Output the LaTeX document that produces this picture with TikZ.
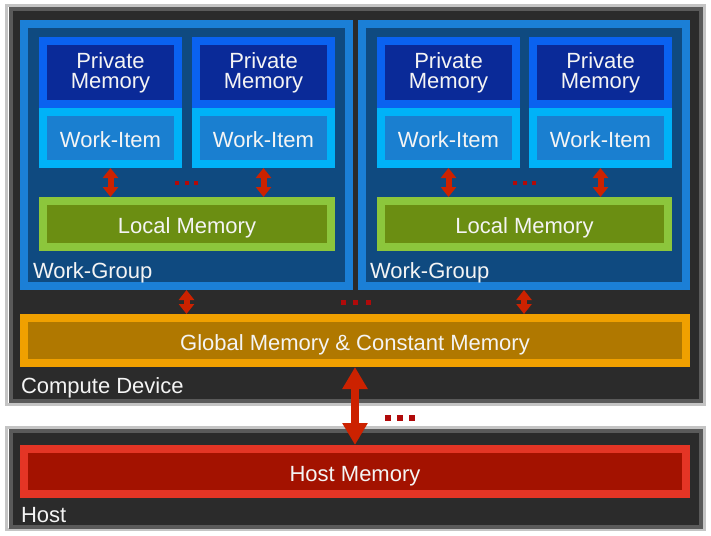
\documentclass[tikz,border=0pt]{standalone}
\usepackage{fontspec}
\setmainfont{Liberation Sans}
\usetikzlibrary{arrows.meta}
\definecolor{devfill}{HTML}{2B2B2B}
\definecolor{devframe}{HTML}{5A5A5A}
\definecolor{devedge}{HTML}{C4C4C4}
\definecolor{wgout}{HTML}{1B7FD6}
\definecolor{wgin}{HTML}{0F4A80}
\definecolor{pmout}{HTML}{0A62F0}
\definecolor{pmin}{HTML}{0A2A98}
\definecolor{wiout}{HTML}{00B2F8}
\definecolor{wiin}{HTML}{1A7FD0}
\definecolor{lmout}{HTML}{8CC63C}
\definecolor{lmin}{HTML}{6B8E12}
\definecolor{glout}{HTML}{F0A000}
\definecolor{glin}{HTML}{B07800}
\definecolor{hmout}{HTML}{E43525}
\definecolor{hmin}{HTML}{A31200}
\definecolor{arrred}{HTML}{CC2200}
\definecolor{dotred}{HTML}{B00A0A}
\definecolor{txt}{HTML}{F4F4F4}
\begin{document}
\begin{tikzpicture}[x=1pt,y=-1pt,
  every node/.style={inner sep=0pt,outer sep=0pt},
  lbl/.style={text=txt,font=\fontsize{22}{19}\selectfont},
  mbox/.style n args={4}{draw=#1,fill=#2,line width=8pt,outer sep=4pt,
     minimum width=#3,minimum height=#4,text=txt,
     font=\fontsize{22}{20}\selectfont,text height=19pt,text depth=0pt},
  twoline/.style={align=center,text height=,text depth=},
  frame/.style={draw=devframe,fill=devfill,line width=4pt,outer sep=2pt},
  edge/.style={draw=devedge,line width=3pt},
  smallarr/.style={draw=arrred,line width=6pt,
     {Triangle[width=15pt,length=10pt]}-{Triangle[width=15pt,length=10pt]}},
  bigarr/.style={draw=arrred,line width=8pt,
     {Triangle[width=24pt,length=22pt]}-{Triangle[width=24pt,length=22pt]}},
  dotsq/.style={fill=dotred,minimum width=#1,minimum height=#1}
]
\useasboundingbox (0,0) rectangle (711,535);
\fill[white] (0,0) rectangle (711,535);

% Compute device
\draw[edge] (6.5,5.5) rectangle (704.5,404.5);
\node[frame,minimum width=690pt,minimum height=392pt] (dev) at (355.5,205) {};
% Host
\draw[edge] (6.5,427.5) rectangle (704.5,529.5);
\node[frame,minimum width=690pt,minimum height=96pt] (host) at (355.5,478.5) {};

% Work-groups
\node[mbox={wgout}{wgin}{325pt}{262pt}] (wg1) at (186.5,155) {};
\node[mbox={wgout}{wgin}{324pt}{262pt}] (wg2) at (524,155) {};

% Work-group 1 contents
\node[mbox={pmout}{pmin}{135pt}{63pt},twoline] (pm1) at (110.5,72.5) {Private\\Memory};
\node[mbox={pmout}{pmin}{135pt}{63pt},twoline] (pm2) at (263.5,72.5) {Private\\Memory};
\node[mbox={wiout}{wiin}{135pt}{52pt}] (wi1) at (110.5,138) {Work-Item};
\node[mbox={wiout}{wiin}{135pt}{52pt}] (wi2) at (263.5,138) {Work-Item};
\node[mbox={lmout}{lmin}{288pt}{46pt}] (lm1) at (187,224) {Local Memory};

% Work-group 2 contents
\node[mbox={pmout}{pmin}{135pt}{63pt},twoline] (pm3) at (448.5,72.5) {Private\\Memory};
\node[mbox={pmout}{pmin}{135pt}{63pt},twoline] (pm4) at (600.5,72.5) {Private\\Memory};
\node[mbox={wiout}{wiin}{135pt}{52pt}] (wi3) at (448.5,138) {Work-Item};
\node[mbox={wiout}{wiin}{135pt}{52pt}] (wi4) at (600.5,138) {Work-Item};
\node[mbox={lmout}{lmin}{287pt}{46pt}] (lm2) at (524.5,224) {Local Memory};

% Global and host memory
\node[mbox={glout}{glin}{662pt}{45pt}] (glob) at (355,340.5) {Global Memory \& Constant Memory};
\node[mbox={hmout}{hmin}{662pt}{45pt}] (hmem) at (355,471.5) {Host Memory};

% Labels
\node[lbl,anchor=base west] (wgl1) at (33,278) {Work-Group};
\node[lbl,anchor=base west] (wgl2) at (370,278) {Work-Group};
\node[lbl,anchor=base west] (devl) at (21,393) {Compute Device};
\node[lbl,anchor=base west] (hostl) at (21,522) {Host};

% Arrows
\draw[smallarr] (wi1.south) -- (wi1.south |- lm1.north);
\draw[smallarr] (wi2.south) -- (wi2.south |- lm1.north);
\draw[smallarr] (wi3.south) -- (wi3.south |- lm2.north);
\draw[smallarr] (wi4.south) -- (wi4.south |- lm2.north);
\draw[smallarr] (wg1.south) -- (wg1.south |- glob.north);
\draw[smallarr] (wg2.south) -- (wg2.south |- glob.north);
\draw[bigarr] (glob.south) -- (hmem.north);

% Ellipsis dots
\foreach \x [count=\i] in {177,186.5,196}{\node[dotsq=4pt] (da\i) at (\x,183) {};}
\foreach \x [count=\i] in {515,524.5,534}{\node[dotsq=4pt] (db\i) at (\x,183) {};}
\foreach \x [count=\i] in {343,355.5,368}{\node[dotsq=5pt] (dc\i) at (\x,302) {};}
\foreach \x [count=\i] in {388,400,412}{\node[dotsq=6pt] (dd\i) at (\x,418) {};}
\end{tikzpicture}
\end{document}
